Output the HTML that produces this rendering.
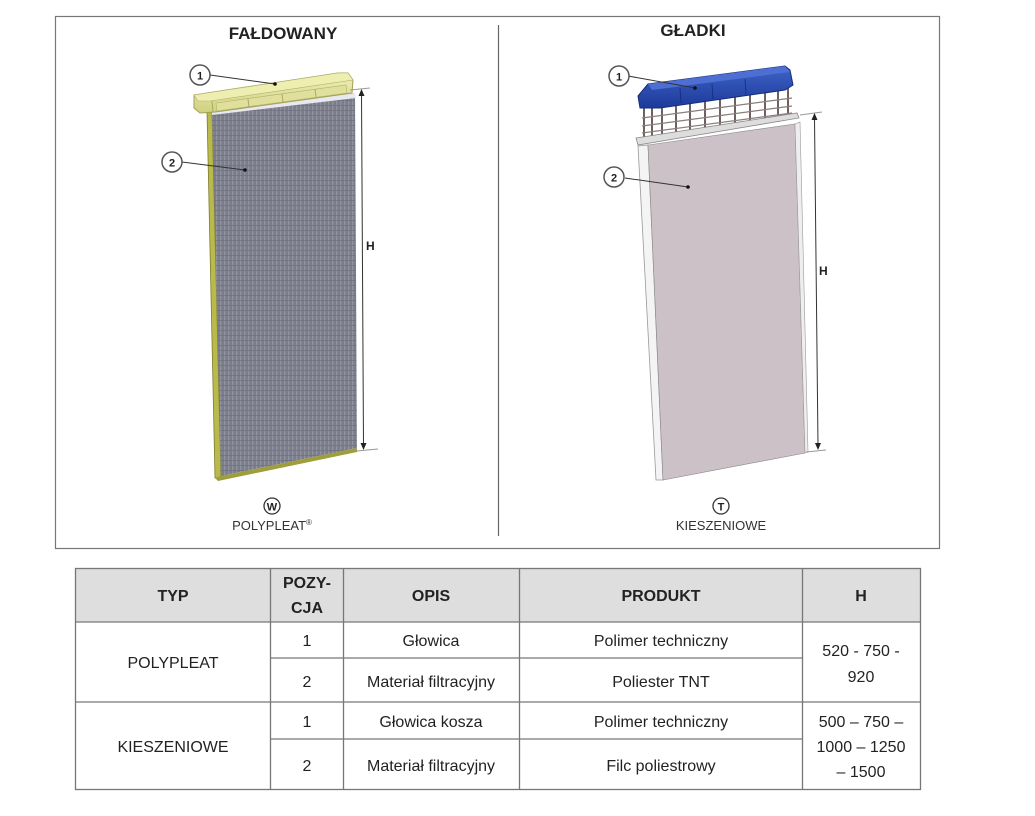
<!DOCTYPE html>
<html><head><meta charset="utf-8">
<style>
html,body{margin:0;padding:0;background:#fff;}
svg{display:block;}
text{font-family:"Liberation Sans",Arial,sans-serif;}
</style></head>
<body>
<svg width="1035" height="816" viewBox="0 0 1035 816" xmlns="http://www.w3.org/2000/svg">
<defs>
<pattern id="pleat" width="4" height="5" patternUnits="userSpaceOnUse">
<rect width="4" height="5" fill="#7b7d8b"/>
<rect x="0" width="1.3" height="5" fill="#9193a0"/>
<rect y="0" width="4" height="0.8" fill="#70727f"/>
</pattern>
<linearGradient id="blue" x1="0" y1="0" x2="0" y2="1">
<stop offset="0" stop-color="#3f63c8"/><stop offset="1" stop-color="#1c3a9a"/>
</linearGradient>
<linearGradient id="yel" x1="0" y1="0" x2="0" y2="1">
<stop offset="0" stop-color="#f1f0b8"/><stop offset="1" stop-color="#cfd07e"/>
</linearGradient>
</defs>

<rect x="55.5" y="16.5" width="884" height="532" fill="#fff" stroke="#777" stroke-width="1.2"/>
<line x1="498.5" y1="25" x2="498.5" y2="536" stroke="#666" stroke-width="1.2"/>

<text x="283" y="39" font-size="17" font-weight="bold" text-anchor="middle" fill="#222">FAŁDOWANY</text>
<text x="693" y="36" font-size="17" font-weight="bold" text-anchor="middle" fill="#222">GŁADKI</text>

<!-- LEFT FILTER -->
<polygon points="207,112 212,112 221,478 215,478" fill="#b9b94c" stroke="#7d7d2c" stroke-width="0.8"/>
<polygon points="212,110 355,93 357,448 221,476" fill="url(#pleat)"/>
<polygon points="215,478 221,476 357,448 357,452 218,481" fill="#9e9e3c"/>
<polygon points="212,110 355,93 356,98 212,115" fill="#e8e8ef"/>
<!-- header -->
<polygon points="194,95 338,73 348,73 353,80 352,93 215,112 200,113 194,108" fill="url(#yel)" stroke="#a0a055" stroke-width="1"/>
<polygon points="194,95 338,73 348,73 353,80 210,101 198,101" fill="#eeeeb0" stroke="#b0b070" stroke-width="0.6"/>
<polygon points="216,103 346,85 347,93 217,111" fill="#e0e09c" stroke="#b0b070" stroke-width="0.6"/>
<line x1="248" y1="99" x2="249" y2="107" stroke="#a8a860"/>
<line x1="282" y1="94" x2="283" y2="102" stroke="#a8a860"/>
<line x1="315" y1="89" x2="316" y2="97" stroke="#a8a860"/>
<line x1="212" y1="101" x2="213" y2="112" stroke="#a8a860"/>
<!-- dimension -->
<line x1="350" y1="90" x2="370" y2="88" stroke="#999" stroke-width="1"/>
<line x1="357" y1="451" x2="378" y2="449" stroke="#999" stroke-width="1"/>
<line x1="361.5" y1="94" x2="363.5" y2="446" stroke="#333" stroke-width="1"/>
<polygon points="361.5,89 358.5,96 364.5,96" fill="#222"/>
<polygon points="363.5,450 360.5,443 366.5,443" fill="#222"/>
<text x="366" y="250" font-size="12" font-weight="bold" fill="#222">H</text>
<line x1="210" y1="75" x2="275" y2="84" stroke="#333" stroke-width="1"/>
<circle cx="275" cy="84" r="1.8" fill="#111"/>
<circle cx="200" cy="75" r="10" fill="#fff" stroke="#555" stroke-width="1.5"/>
<text x="200" y="79.5" font-size="11" font-weight="bold" text-anchor="middle" fill="#222">1</text>
<line x1="182" y1="162" x2="245" y2="170" stroke="#333" stroke-width="1"/>
<circle cx="245" cy="170" r="1.8" fill="#111"/>
<circle cx="172" cy="162" r="10" fill="#fff" stroke="#555" stroke-width="1.5"/>
<text x="172" y="166.5" font-size="11" font-weight="bold" text-anchor="middle" fill="#222">2</text>
<circle cx="272" cy="506" r="8" fill="#fff" stroke="#333" stroke-width="1.3"/>
<text x="272" y="510.5" font-size="11" font-weight="bold" text-anchor="middle" fill="#222">W</text>
<text x="272" y="530" font-size="13" text-anchor="middle" fill="#333">POLYPLEAT<tspan font-size="8" dy="-5">®</tspan></text>

<!-- RIGHT FILTER -->
<polygon points="638,146 648,145 663,480 656,480" fill="#f4f4f4" stroke="#999" stroke-width="0.8"/>
<polygon points="648,145 795,124 805,453 663,480" fill="#cbc1c6" stroke="#888" stroke-width="0.6"/>
<polygon points="795,124 800,122 808,452 805,453" fill="#eee" stroke="#999" stroke-width="0.6"/>
<g stroke="#6e6160" stroke-width="2">
<line x1="644" y1="100" x2="644" y2="140"/><line x1="652" y1="100" x2="652" y2="140"/>
<line x1="662" y1="100" x2="662" y2="138"/><line x1="676" y1="98" x2="676" y2="136"/>
<line x1="690" y1="96" x2="690" y2="134"/><line x1="705" y1="93" x2="705" y2="132"/>
<line x1="720" y1="91" x2="720" y2="130"/><line x1="735" y1="89" x2="735" y2="128"/>
<line x1="750" y1="87" x2="750" y2="126"/><line x1="765" y1="85" x2="765" y2="124"/>
<line x1="778" y1="83" x2="778" y2="122"/><line x1="788" y1="82" x2="788" y2="120"/>
</g>
<g stroke="#8a7d7b" stroke-width="1.2">
<line x1="642" y1="118" x2="792" y2="98"/><line x1="642" y1="126" x2="792" y2="106"/><line x1="642" y1="133" x2="792" y2="113"/>
</g>
<polygon points="636,138 797,113 799,118 638,145" fill="#ddd" stroke="#888" stroke-width="0.8"/>
<polygon points="638,96 648,84 785,66 790,70 793,85 785,90 660,108 640,108" fill="url(#blue)" stroke="#142c78" stroke-width="1"/>
<polygon points="648,84 785,66 790,72 652,90" fill="#4d6fd3"/>
<g stroke="#142c78" stroke-width="0.8">
<line x1="680" y1="88" x2="681" y2="103"/><line x1="712" y1="84" x2="713" y2="99"/><line x1="745" y1="79" x2="746" y2="94"/>
</g>
<line x1="800" y1="115" x2="822" y2="112" stroke="#999" stroke-width="1"/>
<line x1="806" y1="452" x2="826" y2="450" stroke="#999" stroke-width="1"/>
<line x1="814.5" y1="118" x2="818" y2="446" stroke="#333" stroke-width="1"/>
<polygon points="814.5,113 811.5,120 817.5,120" fill="#222"/>
<polygon points="818,450 815,443 821,443" fill="#222"/>
<text x="819" y="275" font-size="12" font-weight="bold" fill="#222">H</text>
<line x1="628" y1="76" x2="695" y2="88" stroke="#333" stroke-width="1"/>
<circle cx="695" cy="88" r="1.8" fill="#111"/>
<circle cx="619" cy="76" r="10" fill="#fff" stroke="#555" stroke-width="1.5"/>
<text x="619" y="80.5" font-size="11" font-weight="bold" text-anchor="middle" fill="#222">1</text>
<line x1="625" y1="178" x2="688" y2="187" stroke="#333" stroke-width="1"/>
<circle cx="688" cy="187" r="1.8" fill="#111"/>
<circle cx="614" cy="177" r="10" fill="#fff" stroke="#555" stroke-width="1.5"/>
<text x="614" y="181.5" font-size="11" font-weight="bold" text-anchor="middle" fill="#222">2</text>
<circle cx="721" cy="506" r="8" fill="#fff" stroke="#333" stroke-width="1.3"/>
<text x="721" y="510.5" font-size="11" font-weight="bold" text-anchor="middle" fill="#222">T</text>
<text x="721" y="530" font-size="13" text-anchor="middle" fill="#333">KIESZENIOWE</text>

<!-- TABLE -->
<rect x="75" y="568" width="846" height="54" fill="#dedede"/>
<g stroke="#777" stroke-width="1.3" fill="none">
<rect x="75.5" y="568.5" width="845" height="221"/>
<line x1="75" y1="622" x2="921" y2="622"/>
<line x1="75" y1="702" x2="921" y2="702"/>
<line x1="270" y1="658" x2="802" y2="658"/>
<line x1="270" y1="739" x2="802" y2="739"/>
<line x1="270.5" y1="568" x2="270.5" y2="790"/>
<line x1="343.5" y1="568" x2="343.5" y2="790"/>
<line x1="519.5" y1="568" x2="519.5" y2="790"/>
<line x1="802.5" y1="568" x2="802.5" y2="790"/>
</g>
<g font-size="16" text-anchor="middle" fill="#222">
<text x="173" y="601" font-weight="bold">TYP</text>
<text x="307" y="588" font-weight="bold">POZY-</text>
<text x="307" y="613" font-weight="bold">CJA</text>
<text x="431" y="601" font-weight="bold">OPIS</text>
<text x="661" y="601" font-weight="bold">PRODUKT</text>
<text x="861" y="601" font-weight="bold">H</text>
<text x="173" y="668">POLYPLEAT</text>
<text x="173" y="752">KIESZENIOWE</text>
<text x="307" y="646">1</text>
<text x="307" y="687">2</text>
<text x="307" y="727">1</text>
<text x="307" y="771">2</text>
<text x="431" y="646">Głowica</text>
<text x="431" y="687">Materiał filtracyjny</text>
<text x="431" y="727">Głowica kosza</text>
<text x="431" y="771">Materiał filtracyjny</text>
<text x="661" y="646">Polimer techniczny</text>
<text x="661" y="687">Poliester TNT</text>
<text x="661" y="727">Polimer techniczny</text>
<text x="661" y="771">Filc poliestrowy</text>
<text x="861" y="656">520 - 750 -</text>
<text x="861" y="682">920</text>
<text x="861" y="727">500 – 750 –</text>
<text x="861" y="752">1000 – 1250</text>
<text x="861" y="777">– 1500</text>
</g>
</svg>
</body></html>
